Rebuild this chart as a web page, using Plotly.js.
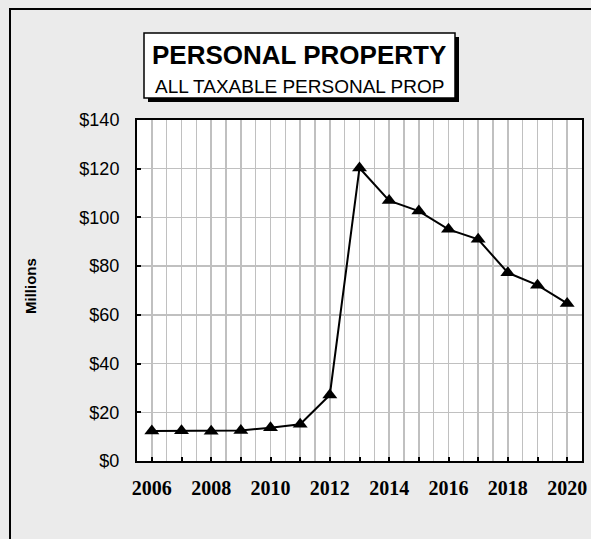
<!DOCTYPE html>
<html>
<head>
<meta charset="utf-8">
<script src="https://cdn.plot.ly/plotly-3.0.1.min.js"></script>
<style>
html,body{margin:0;padding:0;background:#ebebeb;overflow:hidden;}
#wrap{position:relative;width:591px;height:539px;overflow:hidden;}
#chart{width:591px;height:539px;display:block;}
#frame{position:absolute;left:9px;top:8px;width:700px;height:700px;border-left:2px solid #000;border-top:2px solid #000;pointer-events:none;z-index:5;}
</style>
</head>
<body>
<div id="wrap">
<div id="chart"></div>
<div id="frame"></div>
</div>
<script>
// ---- data ----
var years = [2006, 2007, 2008, 2009, 2010, 2011, 2012, 2013, 2014, 2015, 2016, 2017, 2018, 2019, 2020];
var valuesMillions = [12.3, 12.4, 12.2, 12.5, 13.7, 15.1, 27.1, 120.3, 106.9, 102.6, 95.1, 91.0, 77.3, 72.2, 64.7];
var xTickLabelYears = [2006, 2008, 2010, 2012, 2014, 2016, 2018, 2020];
var yTickValues = [0, 20, 40, 60, 80, 100, 120, 140];
var yTickLabels = ['$0', '$20', '$40', '$60', '$80', '$100', '$120', '$140'];
var titleMain = 'PERSONAL PROPERTY';
var titleSub = 'ALL TAXABLE PERSONAL PROP';
var yTitle = 'Millions';

// ---- layout geometry ----
var W = 591, H = 539;
var M = {l: 137, r: 9, t: 120, b: 78};
var PW = W - M.l - M.r, PH = H - M.t - M.b;
function px(x) { return (x - M.l) / PW; }
function py(y) { return (H - M.b - y) / PH; }

var trace = {
  x: years,
  y: valuesMillions,
  type: 'scatter',
  mode: 'lines+markers',
  line: {color: '#000000', width: 2},
  marker: {symbol: 'triangle-up', size: 13, color: '#000000'},
  cliponaxis: false,
  hoverinfo: 'x+y'
};

var layout = {
  width: W, height: H,
  margin: M,
  paper_bgcolor: '#ebebeb',
  plot_bgcolor: '#ffffff',
  showlegend: false,
  xaxis: {
    range: [2005.5, 2020.5],
    tickmode: 'array',
    tickvals: years,
    ticktext: years.map(function (y) { return xTickLabelYears.indexOf(y) >= 0 ? String(y) : ''; }),
    ticks: 'inside', ticklen: 4, tickwidth: 2, tickcolor: '#000000',
    tickfont: {family: 'Liberation Serif, Times New Roman, serif', size: 20, color: '#000000', weight: 'bold'},
    showgrid: true, gridcolor: '#c0c0c0', gridwidth: 1.5,
    minor: {tickmode: 'linear', tick0: 2005.5, dtick: 1, showgrid: true, gridcolor: '#c0c0c0', gridwidth: 1.5, ticks: ''},
    showline: true, linecolor: '#000000', linewidth: 2, mirror: true,
    zeroline: false, fixedrange: true,
    ticklabelstandoff: 8
  },
  yaxis: {
    range: [0, 140],
    tickmode: 'array',
    tickvals: yTickValues,
    ticktext: yTickLabels,
    ticks: 'inside', ticklen: 4, tickwidth: 2, tickcolor: '#000000',
    tickfont: {family: 'Liberation Sans, Arial, sans-serif', size: 18, color: '#000000'},
    showgrid: true, gridcolor: '#c0c0c0', gridwidth: 1.5,
    showline: true, linecolor: '#000000', linewidth: 2, mirror: true,
    zeroline: false, fixedrange: true,
    ticklabelstandoff: 12
  },
  shapes: [
    // title shadow
    {type: 'rect', xref: 'paper', yref: 'paper', x0: px(148), x1: px(459), y0: py(102), y1: py(37),
     line: {color: '#000000', width: 0}, fillcolor: '#000000'},
    // title box
    {type: 'rect', xref: 'paper', yref: 'paper', x0: px(144), x1: px(455), y0: py(98), y1: py(33),
     line: {color: '#000000', width: 1.5}, fillcolor: '#ffffff'}
  ],
  annotations: [
    {text: '<b>' + titleMain + '</b>', xref: 'paper', yref: 'paper', x: px(299), y: py(55),
     xanchor: 'center', yanchor: 'middle', showarrow: false,
     font: {family: 'Liberation Sans, Arial, sans-serif', size: 26, color: '#000000'}},
    {text: titleSub, xref: 'paper', yref: 'paper', x: px(299), y: py(86.5),
     xanchor: 'center', yanchor: 'middle', showarrow: false,
     font: {family: 'Liberation Sans, Arial, sans-serif', size: 19, color: '#000000'}},
    {text: '<b>' + yTitle + '</b>', xref: 'paper', yref: 'paper', x: px(30), y: py(286),
     xanchor: 'center', yanchor: 'middle', showarrow: false, textangle: -90,
     font: {family: 'Liberation Sans, Arial, sans-serif', size: 15, color: '#000000'}}
  ]
};

Plotly.newPlot('chart', [trace], layout, {displayModeBar: false, staticPlot: true});
</script>
</body>
</html>
